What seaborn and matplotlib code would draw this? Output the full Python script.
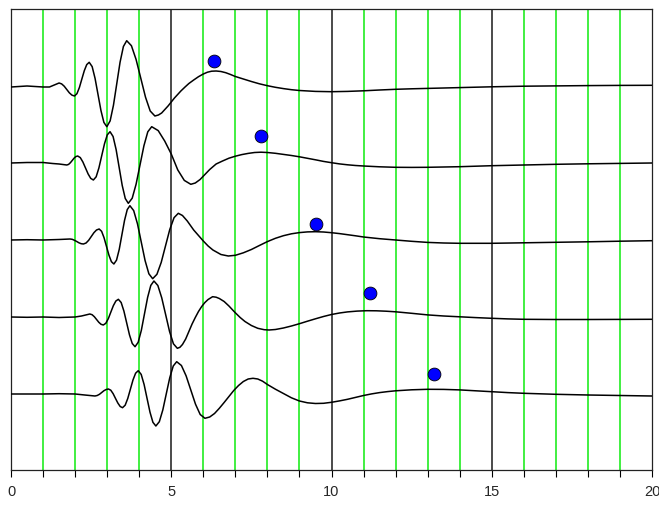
import matplotlib
matplotlib.use("Agg")
import matplotlib.pyplot as plt
import seaborn as sns
import pandas as pd

# ---------------- data ----------------
offsets = [383, 307, 230, 153, 76]   # baseline of each trace (arbitrary vertical units)

t1_x = [0, 0.5, 1.0, 1.2, 1.35, 1.5, 1.58, 1.66, 1.74, 1.82, 1.90, 1.98, 2.057, 2.133, 2.21, 2.287, 2.363,
        2.44, 2.532, 2.623, 2.715, 2.807, 2.898, 2.99, 3.093, 3.197, 3.30, 3.403, 3.507, 3.61, 3.757, 3.903,
        4.05, 4.197, 4.343, 4.49, 4.6, 4.7, 4.8, 4.9, 5.0, 5.1, 5.2, 5.3, 5.43, 5.55, 5.7, 5.85, 6.0, 6.13,
        6.26, 6.4, 6.55, 6.7, 6.85, 7.0, 7.25, 7.5, 7.75, 8.0, 8.25, 8.5, 8.75, 9.0, 9.5, 10, 10.5, 11,
        11.5, 12, 12.5, 13, 13.5, 14, 15, 16, 17, 18, 19, 20]
t1_y = [0, 1, 0, 0, 2, 4, 3.1, 0.8, -2.5, -5.8, -8.1, -9, -6.7, -0.6, 7.9, 16.3, 22.4,
        24.7, 20.4, 8.6, -7.5, -23.6, -35.4, -39.7, -33.9, -18.2, 3.3, 24.8, 40.5, 46.3, 41.3, 27.5,
        8.7, -10.2, -24.0, -29, -28, -26, -22.5, -19, -15, -11, -7.5, -4, 0, 3.5, 7, 10.3, 13, 14.8,
        15.8, 16, 15.5, 14.3, 12.5, 10.5, 8, 5.5, 3.2, 1.3, -0.3, -1.6, -2.7, -3.5, -4.4, -4.7, -4.4, -3.8,
        -3, -2.3, -1.8, -1.4, -1, -0.6, 0.2, 0.8, 1.1, 1.4, 1.6, 1.7]

t2_x = [0, 0.5, 1.0, 1.3, 1.5, 1.74, 1.797, 1.853, 1.91, 1.967, 2.023, 2.08, 2.162, 2.243, 2.325, 2.407,
        2.488, 2.57, 2.657, 2.743, 2.83, 2.917, 3.003, 3.09, 3.185, 3.28, 3.375, 3.47, 3.565, 3.66, 3.782,
        3.903, 4.025, 4.147, 4.268, 4.39, 4.593, 4.797, 5.0, 5.203, 5.407, 5.61, 5.75, 5.9, 6.05, 6.2, 6.4,
        6.6, 6.8, 7.0, 7.2, 7.4, 7.6, 7.8, 8.0, 8.25, 8.5, 8.75, 9.0, 9.25, 9.5, 9.75, 10, 10.25, 10.5,
        10.75, 11, 11.5, 12, 12.5, 13, 13.5, 14, 14.5, 15, 16, 17, 18, 19, 20]
t2_y = [0, 0.5, 0.5, -0.5, -1, -2, -1.4, 0.3, 2.5, 4.8, 6.4, 7, 5.4, 1, -5, -11,
        -15.4, -17, -13.8, -4.9, 7.2, 19.2, 28.1, 31.3, 26.5, 13.4, -4.5, -22.4, -35.5, -40.3, -35.2,
        -21.2, -2, 17.2, 31.2, 36.3, 32.4, 21.9, 9, -6.9, -17.4, -21.3, -20, -16.5, -11.5, -6.5, -1,
        2, 4.8, 6.8, 8.4, 9.6, 10.5, 10.8, 10.5, 9.7, 8.6, 7.5, 6.2, 4.7, 3.2, 1.6, 0.3, -0.9, -1.8,
        -2.5, -3, -3.8, -4.3, -4.4, -4.3, -4, -3.7, -3.2, -2.7, -2, -1.3, -0.8, -0.4, 0]

t3_x = [0, 0.5, 1.0, 1.5, 1.84, 1.91, 1.98, 2.05, 2.12, 2.19, 2.26, 2.342, 2.423, 2.505, 2.587, 2.668,
        2.75, 2.827, 2.903, 2.98, 3.057, 3.133, 3.21, 3.293, 3.377, 3.46, 3.543, 3.627, 3.71, 3.828, 3.947,
        4.065, 4.183, 4.302, 4.42, 4.553, 4.687, 4.82, 4.953, 5.087, 5.22, 5.35, 5.5, 5.7, 5.85, 6.0, 6.15,
        6.3, 6.55, 6.78, 7.0, 7.25, 7.5, 7.75, 8.0, 8.25, 8.5, 8.75, 9.0, 9.25, 9.5, 9.75, 10, 10.25,
        10.5, 10.75, 11, 11.5, 12, 12.5, 13, 13.5, 14, 15, 16, 17, 18, 19, 20]
t3_y = [0, 0.3, 0, 0.5, 1, 0.7, -0.3, -1.5, -2.8, -3.7, -4, -3, -0.3, 3.5, 7.3, 10,
        11, 8.7, 2.3, -6.5, -15.3, -21.7, -24, -20.1, -9.4, 5.2, 19.7, 30.4, 34.3, 29.4, 16.1,
        -2.2, -20.5, -33.8, -38.7, -34.3, -22.4, -6, 10.4, 22.3, 26.7, 24.5, 19, 10, 4.5, -1, -6,
        -10, -14.5, -16, -15.3, -12.8, -9.5, -5.5, -1.6, 1.7, 4.3, 6.2, 7.4, 8.1, 8.3, 8.0, 7.3, 6.4,
        5.3, 4.2, 3, 1.3, 0, -1.3, -2.4, -3, -3.3, -3.3, -2.8, -2.3, -1.8, -1.2, -0.7]

t4_x = [0, 0.5, 1.0, 1.5, 2.0, 2.2, 2.46, 2.53, 2.60, 2.67, 2.74, 2.81, 2.88, 2.958, 3.037, 3.115, 3.193,
        3.272, 3.35, 3.437, 3.523, 3.61, 3.697, 3.783, 3.87, 3.968, 4.067, 4.165, 4.263, 4.362, 4.46, 4.582,
        4.703, 4.825, 4.947, 5.068, 5.19, 5.27, 5.35, 5.45, 5.55, 5.65, 5.75, 5.85, 5.95, 6.05, 6.15, 6.29,
        6.4, 6.5, 6.65, 6.8, 6.99, 7.15, 7.3, 7.5, 7.7, 7.9, 8.05, 8.25, 8.5, 8.75, 9.0, 9.25, 9.5, 9.75,
        10, 10.25, 10.5, 10.8, 11.1, 11.4, 11.7, 12, 12.5, 13, 13.5, 14, 14.5, 15, 15.5, 16, 17, 18, 19, 20]
t4_y = [0, -0.3, 0, -0.5, 0, 1, 3, 2.3, 0.3, -2.5, -5.3, -7.3, -8, -6.3, -1.6, 4.9, 11.3,
        16, 17.7, 14.5, 5.9, -6, -17.9, -26.5, -29.7, -25.3, -13.3, 3.2, 19.6, 31.6, 36, 31.5,
        19.2, 2.4, -14.5, -26.8, -31.3, -30.3, -27.5, -22, -14.5, -7, -0.5, 5.5, 10.5, 14.5, 17.5, 20.3,
        19.8, 18.5, 15.5, 11, 4.5, -0.5, -4.5, -8.5, -11.3, -12.7, -13, -12.5, -11, -9, -6.7, -4.2, -1.8, 0.5,
        2.5, 4, 5.1, 5.9, 6.3, 6.2, 5.8, 5.2, 3.7, 2.1, 1, 0.2, -0.6, -1.3, -1.9, -2.3, -2.5, -2.5, -2.4, -2.3]

t5_x = [0, 0.5, 1.0, 1.5, 2.0, 2.3, 2.62, 2.69, 2.76, 2.83, 2.90, 2.97, 3.04, 3.113, 3.187, 3.26, 3.333,
        3.407, 3.48, 3.562, 3.643, 3.725, 3.807, 3.888, 3.97, 4.062, 4.153, 4.245, 4.337, 4.428, 4.52,
        4.628, 4.737, 4.845, 4.953, 5.062, 5.17, 5.317, 5.463, 5.61, 5.757, 5.903, 6.05, 6.2, 6.35, 6.5,
        6.65, 6.8, 6.95, 7.1, 7.25, 7.4, 7.55, 7.7, 7.85, 8.0, 8.25, 8.5, 8.75, 9.0, 9.25, 9.5, 9.75, 10,
        10.25, 10.5, 10.75, 11, 11.25, 11.5, 11.75, 12, 12.5, 13, 13.5, 14, 14.5, 15, 15.5, 16, 17, 18,
        19, 20]
t5_y = [0, 0, 0, 0.3, 0, -1, -2, -1.5, -0.3, 1.5, 3.3, 4.5, 5, 3.8, 0.3, -4.4, -9,
        -12.5, -13.7, -11.2, -4.5, 4.8, 14.1, 20.8, 23.3, 19.6, 9.5, -4.4, -18.2, -28.3, -32,
        -27.7, -15.9, 0.2, 16.2, 28, 32.3, 28.5, 18.2, 4, -10.2, -20.5, -24.3, -23, -19.5, -14.3,
        -8.5, -2.5, 3.5, 8.5, 12.5, 15, 15.7, 15, 12.8, 9.5, 4.8, 0.5, -3.8, -7, -8.8, -9.5, -9.3, -8.3,
        -6.9, -5.3, -3.4, -1.5, 0.1, 1.4, 2.4, 3.2, 4.2, 4.7, 4.6, 4.1, 3.2, 2.3, 1.4, 0.7, -0.3, -1,
        -1.5, -2]

dot_x = [6.34, 7.79, 9.52, 11.2, 13.21]
dot_y = [409.3, 334, 245.7, 176.7, 96]

tick_positions = list(range(0, 21))
tick_labels = [str(v) if v % 5 == 0 else "" for v in tick_positions]

# ---------------- build long table ----------------
traces = [(t1_x, t1_y), (t2_x, t2_y), (t3_x, t3_y), (t4_x, t4_y), (t5_x, t5_y)]
rows = []
for i, ((xs, ys), off) in enumerate(zip(traces, offsets)):
    for xv, yv in zip(xs, ys):
        rows.append({"trace": f"t{i+1}", "x": xv, "y": off + yv})
df = pd.DataFrame(rows)
dots = pd.DataFrame({"x": dot_x, "y": dot_y})

# ---------------- plotting ----------------
sns.set_style("white")
plt.rcParams["font.family"] = ["Liberation Sans", "DejaVu Sans"]

fig = plt.figure(figsize=(6.59, 5.05), dpi=100)
ax = fig.add_axes([11 / 659, 1 - 470 / 505, 641 / 659, 461 / 505])

for v in tick_positions[1:-1]:
    if v % 5 == 0:
        ax.axvline(v, color="#1a1a1a", lw=1.1, zorder=1)
    else:
        ax.axvline(v, color="#33ee33", lw=1.3, zorder=1)

sns.lineplot(data=df, x="x", y="y", hue="trace", palette=["black"] * 5, estimator=None,
             sort=False, legend=False, linewidth=1.1, ax=ax, zorder=3)
sns.scatterplot(data=dots, x="x", y="y", s=85, color="#0000ff", edgecolor="black",
                linewidth=0.6, ax=ax, zorder=4)

ax.set_xlim(0, 20)
ax.set_ylim(0, 461)
ax.set_xticks(tick_positions)
ax.set_xticklabels(tick_labels, fontsize=10.5)
ax.set_yticks([])
ax.set_xlabel("")
ax.set_ylabel("")
ax.tick_params(axis="x", direction="out", length=5, width=0.8, color="black", pad=6, bottom=True)
for sp in ax.spines.values():
    sp.set_visible(True)
    sp.set_color("#222222")
    sp.set_linewidth(0.9)

fig.savefig("out.png", dpi=100)
